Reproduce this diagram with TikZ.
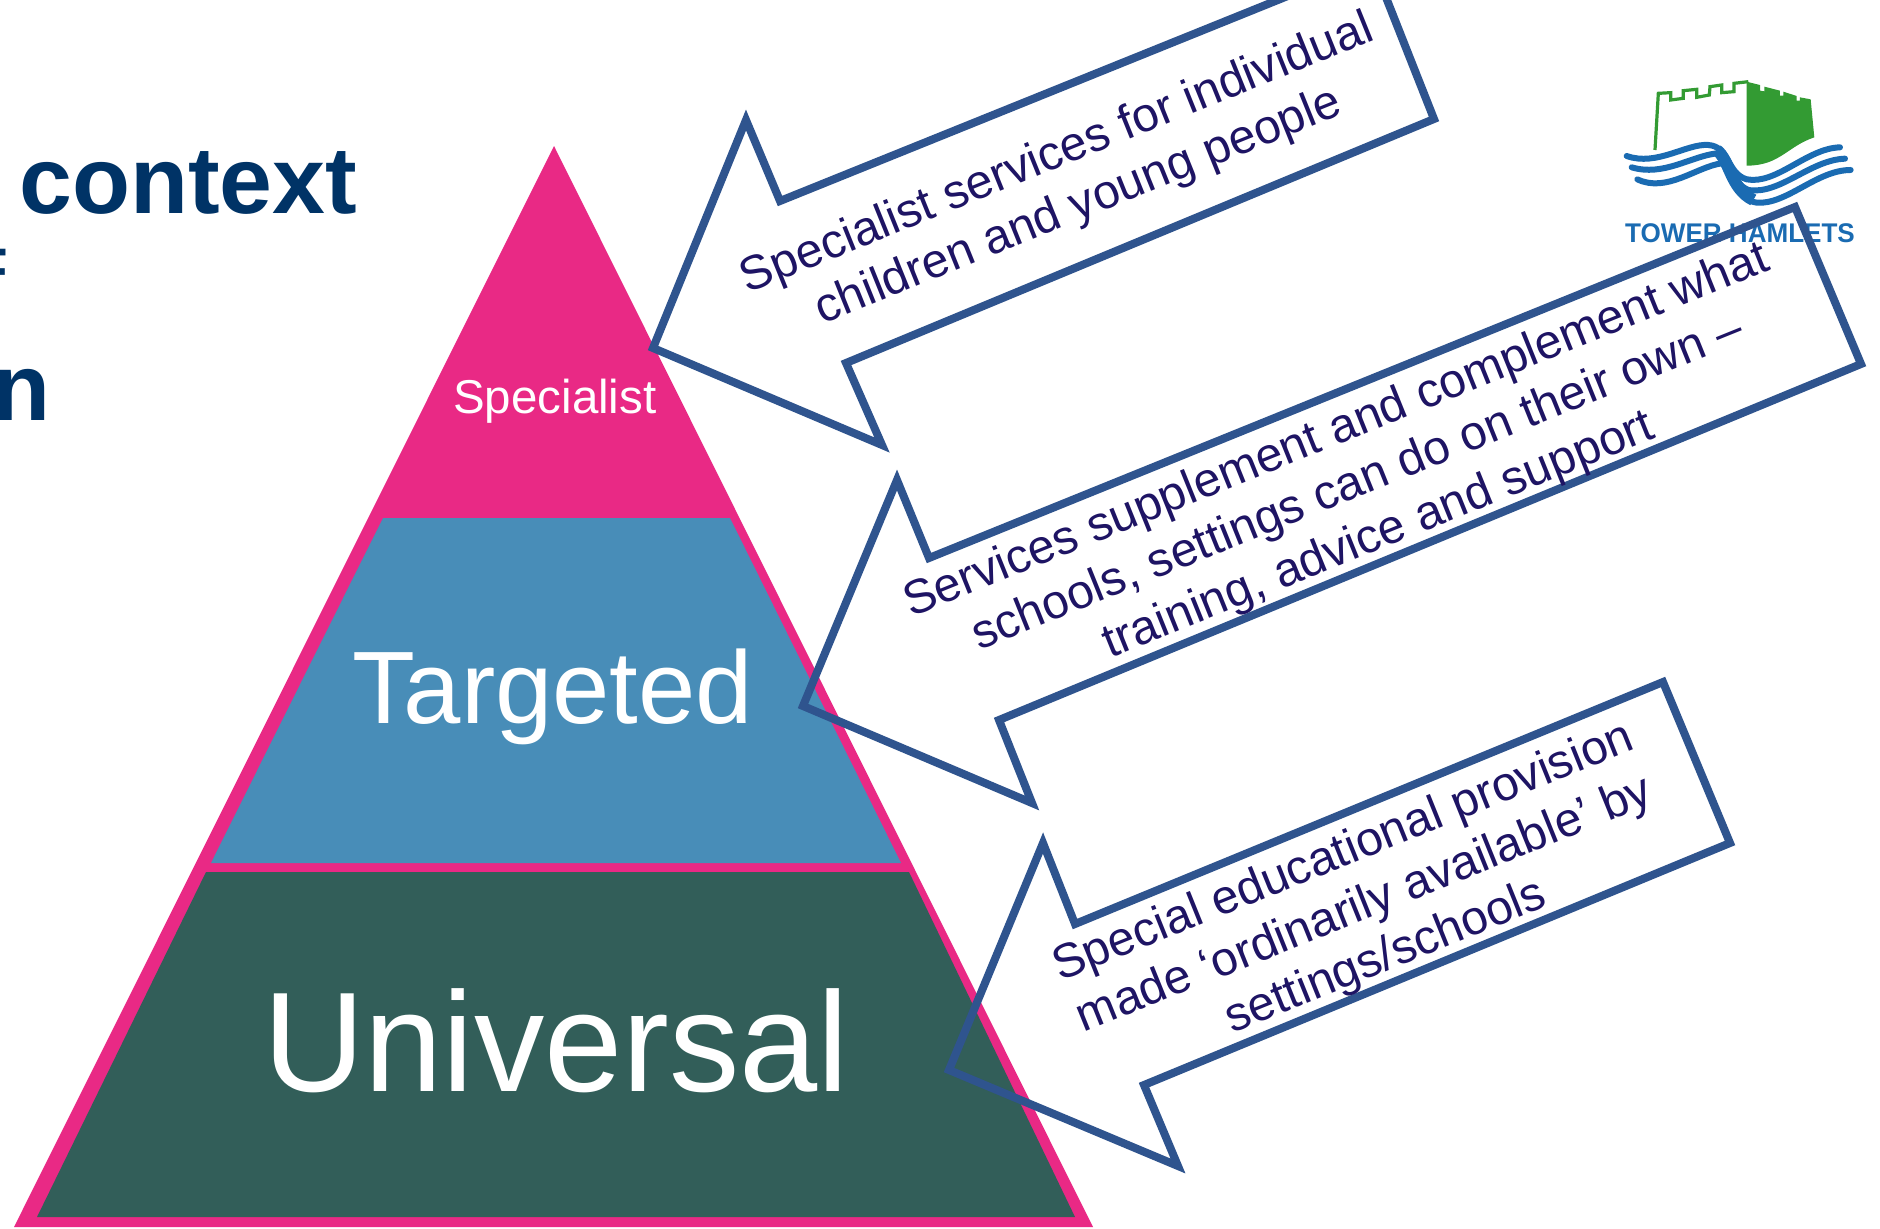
\documentclass[tikz,border=0pt]{standalone}
\usepackage{graphicx}
\usepackage{fontspec}
\setmainfont{Liberation Sans}
\definecolor{pyrpink}{RGB}{233,41,133}
\definecolor{pyrblue}{RGB}{72,141,184}
\definecolor{pyrgreen}{RGB}{50,94,89}
\definecolor{arrowblue}{RGB}{47,84,142}
\definecolor{calloutink}{RGB}{30,20,100}
\definecolor{titlenavy}{RGB}{0,51,102}
\definecolor{logogreen}{RGB}{51,155,51}
\definecolor{logoblue}{RGB}{26,107,178}
\newcommand{\fsz}[2]{\fontsize{#1}{#2}\selectfont}
\tikzset{
  callout/.style={draw=arrowblue,line width=8pt,miter limit=20,line join=miter},
  callouttext/.style={text=calloutink,align=center,rotate=22,inner sep=0pt,font=\fsz{48}{56.5}},
  tiertext/.style={text=white,anchor=base west,inner sep=0pt},
  titletext/.style={text=titlenavy,anchor=base west,inner sep=0pt,font=\fsz{95}{100}\bfseries},
  wave/.style={draw=logoblue,line width=6pt,line cap=round},
  logo/.style={x=0.3333pt,y=-0.3333pt,shift={(1580pt,-60pt)}}
}
\begin{document}
\begin{tikzpicture}[x=1pt,y=-1pt]
\clip (0,0) rectangle (1880,1229);
\fill[white] (0,0) rectangle (1880,1229);
% title fragments
\node[titletext] (ttl) at (19,213) {context};
\node[titletext] (ttn) at (-8,420) {n};
\node[titletext,font=\fsz{60}{64}\bfseries] (ttf) at (-29,290) {F};
% pyramid
\fill[pyrpink] (554,146) -- (1093,1227) -- (14,1227) -- cycle;
\fill[pyrblue] (383,518) -- (730,518) -- (901,863) -- (211,863) -- cycle;
\fill[pyrgreen] (206,872) -- (909,872) -- (1075,1217) -- (37,1217) -- cycle;
\node[tiertext,font=\fsz{47.5}{50}] (spec) at (453,413) {Specialist};
\node[tiertext,font=\fsz{103}{110}] (targ) at (352,723) {Targeted};
\node[tiertext,font=\fsz{142}{150}] (univ) at (263,1091) {\scalebox{0.99}[1]{Universal}};
% logo
\begin{scope}[logo]
\draw[logogreen,line width=3.2pt,line join=miter]
 (225,270) -- (235,100) -- (272,98) -- (272,120) -- (310,115) -- (310,92) -- (350,88)
 -- (350,112) -- (388,105) -- (390,80) -- (425,75) -- (425,98) -- (462,95) -- (462,70) -- (505,65);
\fill[logogreen] (500,65) -- (540,75) -- (540,92) -- (553,94) -- (553,80) -- (600,92) -- (600,107)
 -- (610,107) -- (610,95) -- (650,108) -- (650,122) -- (660,122) -- (660,112) -- (692,118) -- (703,232)
 .. controls (620,260) and (600,317) .. (500,317) -- cycle;
\draw[wave] (140,288) .. controls (230,320) and (320,250) .. (385,255)
 .. controls (450,260) and (440,340) .. (500,358) .. controls (590,375) and (680,265) .. (780,262);
\draw[wave] (155,322) .. controls (250,350) and (330,290) .. (410,280)
 .. controls (450,295) and (455,370) .. (505,390) .. controls (600,405) and (690,300) .. (795,296);
\draw[wave] (172,358) .. controls (260,400) and (350,320) .. (425,310)
 .. controls (460,335) and (470,420) .. (530,428) .. controls (620,435) and (710,330) .. (812,330);
\draw[logoblue,line width=12pt] (410,270) .. controls (450,300) and (450,385) .. (520,420);
\end{scope}
\node[text=logoblue,anchor=base west,inner sep=0pt,font=\fsz{27}{30}\bfseries] (logotxt) at (1625,242) {\scalebox{0.965}[1]{TOWER HAMLETS}};
% callouts (unfilled outlines)
\draw[callout] (653,348) -- (746,120) -- (780,201) -- (1372,-38) -- (1434,119) -- (846,363) -- (882,445) -- cycle;
\draw[callout] (803,706) -- (897,480) -- (929,558) -- (1795,207) -- (1861,364) -- (999,720) -- (1032,803) -- cycle;
\draw[callout] (949,1070) -- (1043,843) -- (1075,924) -- (1663,682) -- (1730,843) -- (1144,1085) -- (1178,1166) -- cycle;
\node[callouttext] (t1) at (1068,181) {Specialist services for individual\\children and young people};
\node[callouttext] (t2) at (1358,484) {Services supplement and complement what\\schools, settings can do on their own –\\training, advice and support};
\node[callouttext] (t3) at (1365,906) {Special educational provision\\made ‘ordinarily available’ by\\settings/schools};
\end{tikzpicture}
\end{document}
